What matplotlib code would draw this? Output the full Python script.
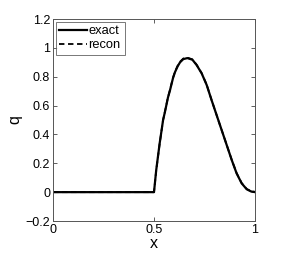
import matplotlib
matplotlib.use("Agg")
import matplotlib.pyplot as plt

x_exact = [0.0, 0.1, 0.2, 0.3, 0.4, 0.5, 0.511, 0.528, 0.545, 0.554, 0.569, 0.579, 0.594,
           0.604, 0.617, 0.629, 0.645, 0.665, 0.69, 0.711, 0.736, 0.761, 0.785,
           0.81, 0.835, 0.86, 0.885, 0.909, 0.934, 0.959, 0.98, 1.0]
q_exact = [0.0, 0.0, 0.0, 0.0, 0.0, 0.0, 0.153, 0.338, 0.50, 0.555, 0.655, 0.705, 0.79,
           0.832, 0.872, 0.90, 0.922, 0.929, 0.918, 0.881, 0.823, 0.742, 0.638,
           0.534, 0.43, 0.326, 0.222, 0.13, 0.061, 0.02, 0.005, 0.0]
x_recon = x_exact
q_recon = [0.0, 0.0, 0.0, 0.0, 0.0, 0.0, 0.15, 0.335, 0.50, 0.557, 0.657, 0.708, 0.793,
           0.835, 0.876, 0.904, 0.926, 0.932, 0.92, 0.883, 0.825, 0.744, 0.639,
           0.534, 0.43, 0.327, 0.223, 0.132, 0.063, 0.022, 0.007, 0.002]

xticks = [0, 0.5, 1]
xticklabels = ["0", "0.5", "1"]
yticks = [-0.2, 0, 0.2, 0.4, 0.6, 0.8, 1.0, 1.2]
yticklabels = ["\u22120.2", "0", "0.2", "0.4", "0.6", "0.8", "1", "1.2"]

plt.rcParams['font.family'] = ['Liberation Sans', 'DejaVu Sans']

fig = plt.figure(figsize=(2.95, 2.54), dpi=100)
ax = fig.add_axes([53/295, 1-221/254, 202/295, 202/254])
ax.plot(x_exact, q_exact, color='black', lw=1.6, ls='-', label='exact',
        solid_joinstyle='round')
ax.plot(x_recon, q_recon, color='black', lw=1.3, ls=(0, (3, 2)), label='recon')
ax.set_xlim(0, 1)
ax.set_ylim(-0.2, 1.2)
ax.set_xticks(xticks)
ax.set_xticklabels(xticklabels)
ax.set_yticks(yticks)
ax.set_yticklabels(yticklabels)
ax.tick_params(direction='in', length=3, width=0.6, labelsize=9, color='#444444',
               top=True, right=True, pad=2)
for s in ax.spines.values():
    s.set_color('#555555')
    s.set_linewidth(0.7)
ax.set_xlabel('x', fontsize=11.5, labelpad=0)
ax.set_ylabel('q', fontsize=11.5, labelpad=2)
leg = ax.legend(loc='upper left', fontsize=9.3, frameon=True, fancybox=False,
                edgecolor='#555555', borderaxespad=0.2, handlelength=2.1,
                handletextpad=0.15, borderpad=0.3, labelspacing=0.15)
leg.get_frame().set_linewidth(0.7)
fig.savefig('out.png', dpi=100)
